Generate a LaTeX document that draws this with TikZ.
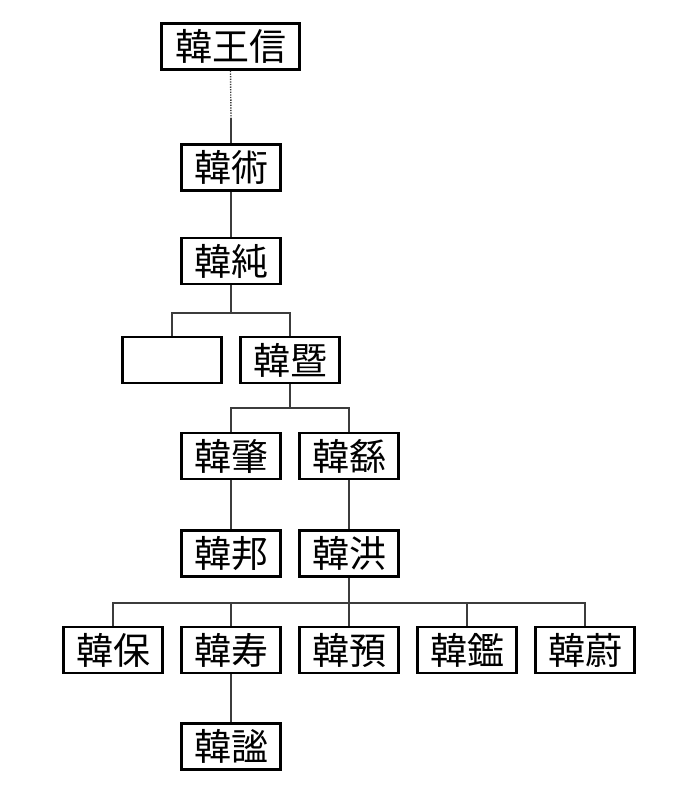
\documentclass[tikz,border=0pt]{standalone}
\usepackage{fontspec}
\usepackage{xcolor}
\usepackage{tikz}
\newfontfamily\cjk{Noto Sans CJK JP}
\definecolor{L0}{HTML}{3c3c3c}

\begin{document}
\begin{tikzpicture}[x=1pt, y=-1pt,
  person/.style={draw, line width=2.8pt, minimum width=99pt, minimum height=46pt, inner sep=0pt, text centered, font=\cjk\fontsize{37}{40}\selectfont},
  link/.style={draw=L0, line width=1.1pt}]%
\useasboundingbox (0,0) rectangle (700,794);%
\node[person, minimum width=138pt] (wangxin) at (230.5, 46.5) {韓王信};%
\node[person] (shu) at (231, 167.5) {韓術};%
\node[person] (chun) at (231, 261) {韓純};%
\node[person] (blank) at (172, 360) {};%
\node[person] (ji) at (290, 360) {韓暨};%
\node[person] (zhao) at (231, 456) {韓肇};%
\node[person] (yao) at (349, 456) {韓繇};%
\node[person] (bang) at (231, 553.5) {韓邦};%
\node[person] (hong) at (349, 553.5) {韓洪};%
\node[person] (bao) at (113, 650) {韓保};%
\node[person] (shou) at (231, 650) {韓寿};%
\node[person] (yu) at (349, 650) {韓預};%
\node[person] (jian) at (467, 650) {韓鑑};%
\node[person] (wei) at (585, 650) {韓蔚};%
\node[person] (mi) at (231, 746.5) {韓謐};%
% bus points
\coordinate (dot) at (231, 118);%
\coordinate (bus1) at (231, 313);%
\coordinate (bus2) at (290, 408);%
\coordinate (bus3) at (349, 603);%
\draw[link, line width=1.4pt, dash pattern=on 1.3pt off 1.3pt] (wangxin.south) -- (dot);%
\draw[link] (dot) -- (shu.north);%
\draw[link] (shu.south) -- (chun.north);%
\draw[link] (chun.south) -- (bus1);%
\draw[link] (blank.north) |- (bus1) -| (ji.north);%
\draw[link] (ji.south) -- (bus2);%
\draw[link] (zhao.north) |- (bus2) -| (yao.north);%
\draw[link] (zhao.south) -- (bang.north);%
\draw[link] (yao.south) -- (hong.north);%
\draw[link] (hong.south) -- (bus3);%
\draw[link] (bao.north) |- (bus3) -| (wei.north);%
\foreach \n in {shou, yu, jian}
  \draw[link] (\n.north) -- (\n.north|-bus3);%
\draw[link] (shou.south) -- (mi.north);%
\end{tikzpicture}
\end{document}
